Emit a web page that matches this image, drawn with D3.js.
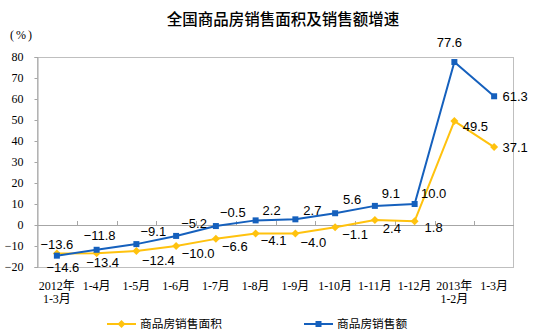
<!DOCTYPE html>
<html><head><meta charset="utf-8">
<script src="https://cdn.jsdelivr.net/npm/d3@7"></script>
<style>
html,body{margin:0;padding:0;background:#fff;}
svg{display:block;}
</style></head>
<body>
<svg id="chart" width="535" height="336"></svg>
<script>
const title = "全国商品房销售面积及销售额增速";
const unitLabel = "(%)";
const categories = ["2012年\n1-3月","1-4月","1-5月","1-6月","1-7月","1-8月","1-9月","1-10月","1-11月","1-12月","2013年\n1-2月","1-3月"];
const areaName = "商品房销售面积";
const salesName = "商品房销售额";
const areaValues = [-13.6,-13.4,-12.4,-10.0,-6.6,-4.1,-4.0,-1.1,2.4,1.8,49.5,37.1];
const salesValues = [-14.6,-11.8,-9.1,-5.2,-0.5,2.2,2.7,5.6,9.1,10.0,77.6,61.3];
const yTicks = [-20,-10,0,10,20,30,40,50,60,70,80];

// label nudges (layout only)
const areaLabelOffsets = [[0,-9],[6,9],[22,9],[22,7],[19,7],[18,7],[18,9],[20,7],[17,8],[19,6],[21,5],[21,0]];
const salesLabelOffsets = [[6,12],[3,-14],[17,-13],[18,-13],[17,-14],[16,-10],[17,-9],[17,-14],[16,-13],[19,-11],[-5,-20],[21,0]];

const yellow = "#FFC20E";
const blue = "#1560BD";

const svg = d3.select("#chart");
const plotLeft = 37, plotRight = 514, plotTop = 57, plotBottom = 267;

const x = d3.scaleBand().domain(categories).range([plotLeft, plotRight]);
const y = d3.scaleLinear().domain([-20, 80]).range([plotBottom, plotTop]);
const cx = c => x(c) + x.bandwidth() / 2;

// title
svg.append("text").attr("x", 283).attr("y", 25).attr("text-anchor", "middle")
  .attr("font-family", "'Noto Sans CJK SC', sans-serif").attr("font-size", 15.5)
  .attr("font-weight", 500).attr("fill", "#000").text(title);

// unit label
svg.append("text").attr("x", 10).attr("y", 39)
  .attr("font-family", "'Liberation Serif', 'Noto Sans CJK SC', serif").attr("font-size", 12)
  .attr("letter-spacing", 2)
  .attr("fill", "#000").text(unitLabel);

// plot border
svg.append("rect").attr("x", plotLeft + 0.5).attr("y", plotTop + 0.5)
  .attr("width", plotRight - plotLeft - 1).attr("height", plotBottom - plotTop)
  .attr("fill", "none").attr("stroke", "#bfbfbf").attr("stroke-width", 1);

// y axis
const yAxis = svg.append("g").attr("transform", `translate(${plotLeft + 0.5},0)`)
  .call(d3.axisLeft(y).tickValues(yTicks).tickSize(3).tickPadding(11).tickFormat(d3.format("d")));
yAxis.select(".domain").attr("stroke", "#a6a6a6");
yAxis.selectAll(".tick line").attr("stroke", "#a6a6a6");
yAxis.selectAll(".tick text").attr("font-family", "'Liberation Serif', serif")
  .attr("font-size", 12).attr("fill", "#000");

// zero axis line
svg.append("line").attr("x1", plotLeft).attr("x2", plotRight)
  .attr("y1", Math.round(y(0)) + 0.5).attr("y2", Math.round(y(0)) + 0.5)
  .attr("stroke", "#a6a6a6").attr("stroke-width", 1);

// x tick marks on zero line at category boundaries
svg.append("g").selectAll("line").data(categories.slice(1)).join("line")
  .attr("x1", d => Math.round(x(d)) + 0.5).attr("x2", d => Math.round(x(d)) + 0.5)
  .attr("y1", Math.round(y(0)) - 4).attr("y2", Math.round(y(0)) + 0.5)
  .attr("stroke", "#a6a6a6");

// x labels
const xl = svg.append("g").selectAll("text").data(categories).join("text")
  .attr("x", d => cx(d)).attr("y", 290).attr("text-anchor", "middle")
  .attr("font-family", "'Liberation Serif', 'Noto Sans CJK SC', serif").attr("font-size", 12)
  .attr("fill", "#000");
xl.each(function(d) {
  const lines = d.split("\n");
  d3.select(this).selectAll("tspan").data(lines).join("tspan")
    .attr("x", cx(d)).attr("dy", (l, i) => i === 0 ? 0 : 12.5).text(l => l);
});

// series
const line = d3.line().x((d, i) => cx(categories[i])).y(d => y(d));
function drawSeries(values, color, marker, offsets) {
  svg.append("path").datum(values).attr("d", line)
    .attr("fill", "none").attr("stroke", color).attr("stroke-width", 2).attr("stroke-linejoin", "round");
  svg.append("g").selectAll("path").data(values).join("path")
    .attr("transform", (d, i) => `translate(${cx(categories[i])},${y(d)})`)
    .attr("d", marker).attr("fill", color);
  svg.append("g").selectAll("text").data(values).join("text")
    .attr("x", (d, i) => cx(categories[i]) + offsets[i][0])
    .attr("y", (d, i) => y(d) + offsets[i][1])
    .attr("dy", "0.36em").attr("text-anchor", "middle")
    .attr("font-family", "'Liberation Sans', Arial, sans-serif").attr("font-size", 13)
    .attr("fill", "#000").text(d => d3.format(".1f")(d));
}
const diamond = "M0,-4L4,0L0,4L-4,0Z";
const square = "M-3,-3H3V3H-3Z";
drawSeries(areaValues, yellow, diamond, areaLabelOffsets);
drawSeries(salesValues, blue, square, salesLabelOffsets);

// legend
const legend = [
  {name: areaName, color: yellow, marker: diamond, x0: 107},
  {name: salesName, color: blue, marker: square, x0: 304}
];
const lg = svg.append("g").selectAll("g").data(legend).join("g")
  .attr("transform", d => `translate(${d.x0},324)`);
lg.append("line").attr("x1", 0).attr("x2", 29).attr("y1", 0).attr("y2", 0)
  .attr("stroke", d => d.color).attr("stroke-width", 2);
lg.append("path").attr("transform", "translate(14.5,0)").attr("d", d => d.marker).attr("fill", d => d.color);
lg.append("text").attr("x", 33).attr("y", 0).attr("dy", "0.36em")
  .attr("font-family", "'Noto Sans CJK SC', sans-serif").attr("font-size", 11.7)
  .attr("fill", "#000").text(d => d.name);
</script>
</body></html>
